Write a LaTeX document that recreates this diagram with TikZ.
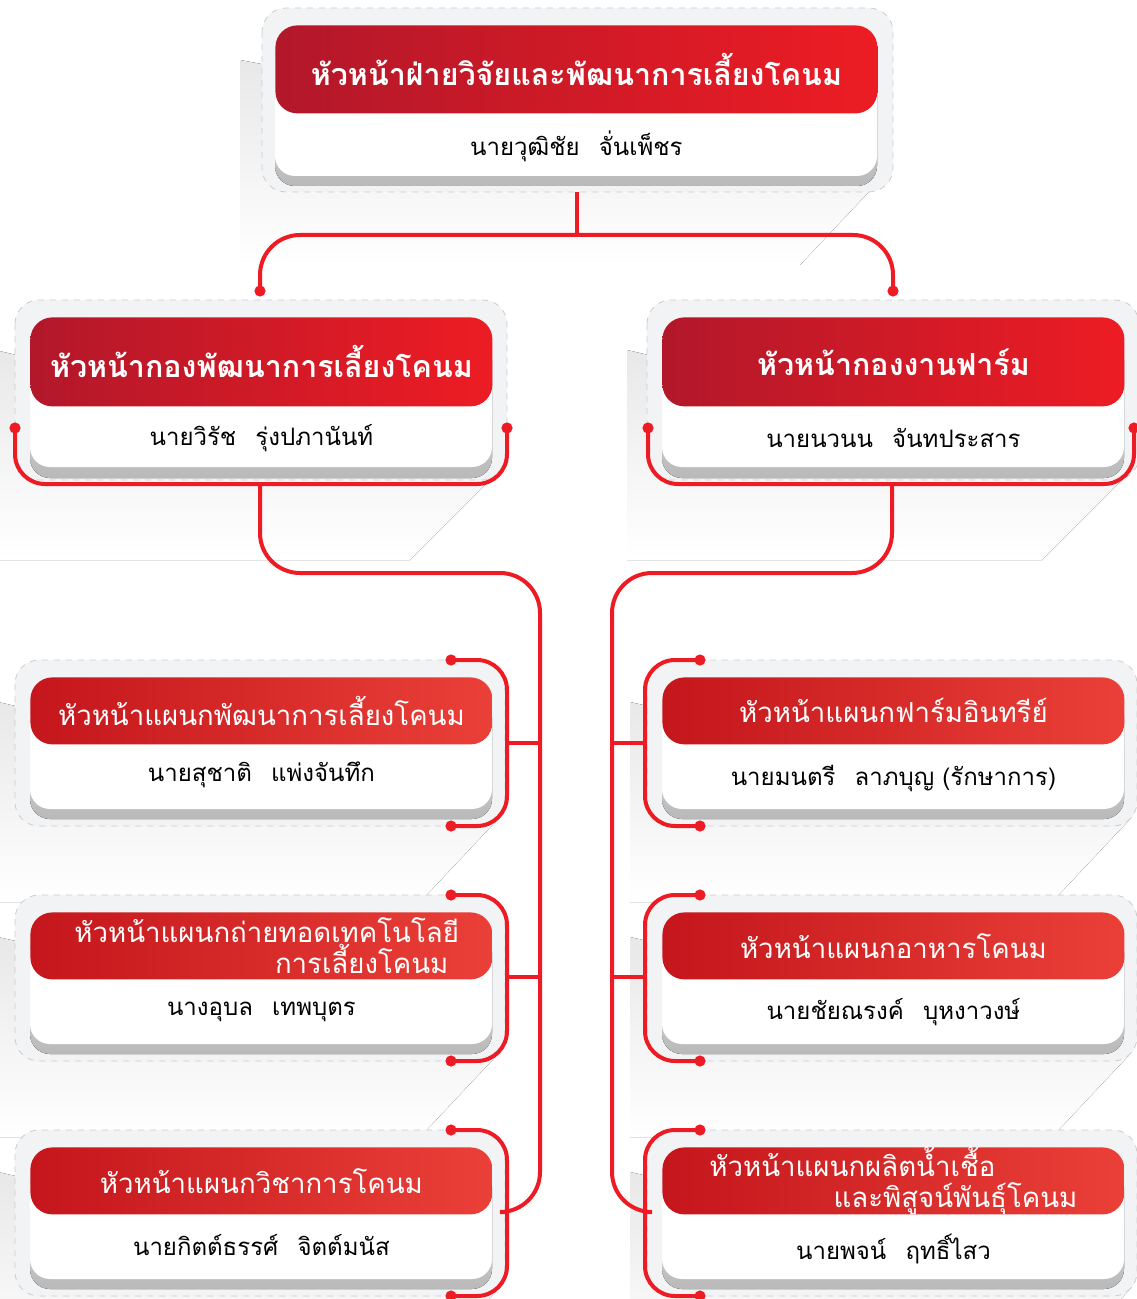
\documentclass[tikz,border=0pt]{standalone}
\usepackage{fontspec}
\newfontfamily\thaifont[Script=Thai]{Loma}
\usetikzlibrary{positioning,calc}
\definecolor{headdark}{RGB}{178,24,42}
\definecolor{headlight}{RGB}{237,28,36}
\definecolor{subdark}{RGB}{196,22,28}
\definecolor{sublight}{RGB}{234,64,56}
\definecolor{linkred}{RGB}{237,28,36}
\definecolor{panelgray}{RGB}{242,243,245}

\tikzset{
  outerbox/.style={draw=gray!40, dashed, fill=panelgray, rounded corners=12pt},
  bodyshade/.style={top color=gray!15, bottom color=gray!55, rounded corners=10pt},
  bodybox/.style={fill=white, rounded corners=10pt},
  longshadow/.style={top color=gray!18, bottom color=white},
  headbig/.style={rounded corners=11pt, left color=headdark, right color=headlight,
    text=white, anchor=north west, inner sep=0pt,
    font=\thaifont\bfseries\fontsize{15.2}{17}\selectfont},
  headsub/.style={rounded corners=11pt, left color=subdark, right color=sublight,
    text=white, anchor=north west, inner sep=0pt, minimum width=231pt, minimum height=33.5pt,
    font=\thaifont\fontsize{13.8}{15.3}\selectfont},
  namebox/.style={inner sep=0pt, font=\thaifont\fontsize{12}{14}\selectfont},
  link/.style={draw=linkred, line width=2pt},
  dot/.style={fill=linkred}
}

\begin{document}
\begin{tikzpicture}[x=0.5pt,y=-0.5pt]
    \useasboundingbox (0,0) rectangle (1136,1299);

    % Long shadows
    \fill[longshadow] (240,60) -- (240,265) -- (800,265) -- (880,180) -- cycle;
    \foreach \x in {30,662} {
        \fill[longshadow] (\x-35,350) -- (\x-35,560) -- (\x+380,560) -- (\x+470,470) -- cycle;
    }
    \foreach \x in {30,662} {
        \foreach \y in {677,912,1147} {
            \fill[longshadow] (\x-32,\y+25) -- (\x-32,\y+225) -- (\x+390,\y+225) -- (\x+470,\y+140) -- cycle;
        }
    }

    % Panels
    \draw[outerbox] (262,8) rectangle (893,192);
    \fill[bodyshade] (275,40) rectangle (877,186);
    \fill[bodybox] (275,40) rectangle (877,176);
    \foreach \x in {30,662} {
        \draw[outerbox] (\x-15,300) rectangle (\x+477,480);
        \fill[bodyshade] (\x,340) rectangle (\x+462,478);
        \fill[bodybox] (\x,340) rectangle (\x+462,467);
        \foreach \y in {677,912,1147} {
            \draw[outerbox] (\x-15,\y-17) rectangle (\x+475,\y+149);
            \fill[bodyshade] (\x,\y+20) rectangle (\x+462,\y+142);
            \fill[bodybox] (\x,\y+20) rectangle (\x+462,\y+132);
        }
    }

    % Heads
    \node[headbig, minimum width=301pt, minimum height=44pt] (chief) at (275,25)
        {หัวหน้าฝ่ายวิจัยและพัฒนาการเลี้ยงโคนม};
    \node[namebox] (chiefname) at ([yshift=-16pt]chief.south) {นายวุฒิชัย\hspace{0.8em}จั่นเพ็ชร};

    \node[headbig, minimum width=231pt, minimum height=44.5pt] (dev) at (30,317)
        {หัวหน้ากองพัฒนาการเลี้ยงโคนม};
    \node[namebox] (devname) at ([yshift=-15.5pt]dev.south) {นายวิรัช\hspace{0.8em}รุ่งปภานันท์};

    \node[headbig, minimum width=231pt, minimum height=44.5pt] (farm) at (662,317)
        {หัวหน้ากองงานฟาร์ม};
    \node[namebox] (farmname) at ([yshift=-15.5pt]farm.south) {นายนวนน\hspace{0.8em}จันทประสาร};

    % Sections, left
    \node[headsub] (sa) at (30,677) {หัวหน้าแผนกพัฒนาการเลี้ยงโคนม};
    \node[namebox] (saname) at ([yshift=-15pt]sa.south) {นายสุชาติ\hspace{0.8em}แพ่งจันทึก};
    \node[headsub] (sb) at (30,912)
        {\parbox{187pt}{หัวหน้าแผนกถ่ายทอดเทคโนโลยี\\\mbox{}\hfill การเลี้ยงโคนม}};
    \node[namebox] (sbname) at ([yshift=-16pt]sb.south) {นางอุบล\hspace{0.8em}เทพบุตร};
    \node[headsub] (sc) at (30,1147) {หัวหน้าแผนกวิชาการโคนม};
    \node[namebox] (scname) at ([yshift=-15pt]sc.south) {นายกิตต์ธรรศ์\hspace{0.8em}จิตต์มนัส};

    % Sections, right
    \node[headsub] (fa) at (662,677) {หัวหน้าแผนกฟาร์มอินทรีย์};
    \node[namebox] (faname) at ([yshift=-17pt]fa.south) {นายมนตรี\hspace{0.8em}ลาภบุญ (รักษาการ)};
    \node[headsub] (fb) at (662,912) {หัวหน้าแผนกอาหารโคนม};
    \node[namebox] (fbname) at ([yshift=-16pt]fb.south) {นายชัยณรงค์\hspace{0.8em}บุหงาวงษ์};
    \node[headsub] (fc) at (662,1147)
        {\parbox{184pt}{หัวหน้าแผนกผลิตน้ำเชื้อ\\\mbox{}\hfill และพิสูจน์พันธุ์โคนม}};
    \node[namebox] (fcname) at ([yshift=-17pt]fc.south) {นายพจน์\hspace{0.8em}ฤทธิ์ไสว};

    % Connectors
    \coordinate (chiefout) at (577,192);
    \coordinate (devtop) at (260,291);
    \coordinate (farmtop) at (893,291);
    \draw[link] (chiefout) -- (577,235);
    \draw[link, rounded corners=20pt] (devtop) -- (260,235) -- (893,235) -- (farmtop);

    \coordinate (devl) at (15,428);
    \coordinate (devr) at (507,428);
    \coordinate (farml) at (648,428);
    \coordinate (farmr) at (1134,428);
    \draw[link, rounded corners=15pt] (devl) -- (15,484) -- (507,484) -- (devr);
    \draw[link, rounded corners=15pt] (farml) -- (648,484) -- (1134,484) -- (farmr);
    \draw[link, rounded corners=20pt] (260,484) -- (260,573) -- (540,573) -- (540,1212) -- (507,1212);
    \draw[link, rounded corners=20pt] (892,484) -- (892,573) -- (612,573) -- (612,1212) -- (645,1212);

    \foreach \y in {677,912,1147} {
        \coordinate (lt) at (451,\y-17);
        \coordinate (lb) at (451,\y+149);
        \coordinate (rt) at (700,\y-17);
        \coordinate (rb) at (700,\y+149);
        \draw[link, rounded corners=15pt] (lt) -- (507,\y-17) -- (507,\y+149) -- (lb);
        \draw[link, rounded corners=15pt] (rt) -- (645,\y-17) -- (645,\y+149) -- (rb);
        \fill[dot] (lt) circle (2.8pt) (lb) circle (2.8pt) (rt) circle (2.8pt) (rb) circle (2.8pt);
    }
    \foreach \y in {743,977} {
        \draw[link] (507,\y) -- (540,\y);
        \draw[link] (612,\y) -- (645,\y);
    }
    \fill[dot] (devtop) circle (2.8pt) (farmtop) circle (2.8pt) (devl) circle (2.8pt)
        (devr) circle (2.8pt) (farml) circle (2.8pt) (farmr) circle (2.8pt);
\end{tikzpicture}
\end{document}
